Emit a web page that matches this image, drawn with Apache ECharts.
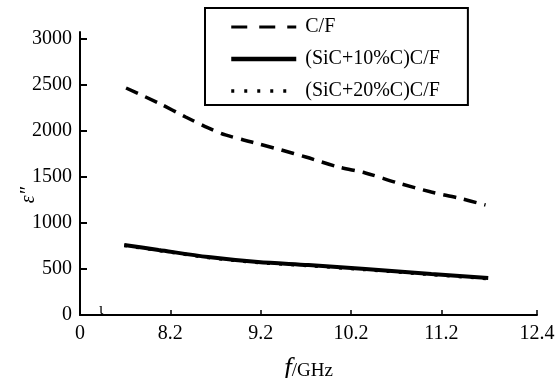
<!DOCTYPE html>
<html>
<head>
<meta charset="utf-8">
<script src="https://cdn.jsdelivr.net/npm/echarts@6/dist/echarts.min.js"></script>
<style>html,body{margin:0;padding:0;background:#fff}#c{width:557px;height:378px}</style>
</head>
<body>
<div id="c"></div>
<script>
// Data
const seriesNames = ['C/F', '(SiC+10%C)C/F', '(SiC+20%C)C/F'];
const freqCF = [7.71, 8.07, 8.37, 8.62, 8.81, 9.10, 9.43, 9.70, 10.06, 10.36, 10.72, 11.09, 11.39, 11.69];
const epsCF  = [2467, 2304, 2152, 2033, 1957, 1880, 1793, 1717, 1609, 1544, 1435, 1337, 1272, 1196];
const freqSiC10 = [7.69, 8.07, 8.62, 9.17, 9.73, 10.36, 11.09, 11.72];
const epsSiC10  = [761, 707, 630, 576, 543, 500, 446, 402];
const freqSiC20 = [7.69, 8.07, 8.62, 9.17, 9.73, 10.36, 11.09, 11.72];
const epsSiC20  = [756, 702, 625, 571, 537, 494, 440, 396];
// Axis tick positions and their printed labels (broken axis: origin printed as 0, end printed as 12.4)
const xTickValues = [7.2, 8.2, 9.2, 10.2, 11.2, 12.26];
const xTickLabels = ['0', '8.2', '9.2', '10.2', '11.2', '12.4'];
const yTickValues = [0, 500, 1000, 1500, 2000, 2500, 3000];

const zip = (a, b) => a.map((v, i) => [v, b[i]]);
const font = 'Liberation Serif';

const styleCF = {color: '#000', width: 3.5, type: [13, 8]};
const style10 = {color: '#000', width: 4, type: 'solid'};
const style20 = {color: '#000', width: 3.5, type: [3, 9]};

const chart = echarts.init(document.getElementById('c'), null, {renderer: 'canvas'});
chart.setOption({
  animation: false,
  backgroundColor: '#fff',
  grid: {left: 80, right: 20, top: 32, bottom: 63, outerBoundsMode: 'none', containLabel: false},
  legend: {
    data: [
      {name: seriesNames[0], lineStyle: {width: 3, type: [16, 12]}},
      {name: seriesNames[1], lineStyle: {width: 4.5}},
      {name: seriesNames[2], lineStyle: {width: 3.5, type: [3, 10]}}
    ],
    orient: 'vertical',
    left: 205, top: 8,
    padding: [9, 28, 4, 24],
    itemWidth: 65, itemHeight: 14, itemGap: 12,
    borderColor: '#000', borderWidth: 2,
    itemStyle: {opacity: 0},
    textStyle: {fontFamily: font, fontSize: 20, color: '#000', padding: [0, 0, 0, 4]}
  },
  xAxis: {
    type: 'value', min: 7.2, max: 12.26,
    axisLine: {lineStyle: {color: '#000', width: 2}},
    axisTick: {inside: true, length: 5, lineStyle: {color: '#000', width: 1.5}, customValues: xTickValues},
    axisLabel: {customValues: xTickValues, color: '#000', fontFamily: font, fontSize: 20, margin: 9,
      formatter: v => { const i = xTickValues.findIndex(t => Math.abs(t - v) < 1e-6); return i >= 0 ? xTickLabels[i] : ''; }},
    splitLine: {show: false},
    name: '{f|f}{u|/GHz}', nameLocation: 'middle', nameGap: 40,
    nameTextStyle: {rich: {
      f: {fontFamily: font, fontStyle: 'italic', fontSize: 27, color: '#000'},
      u: {fontFamily: font, fontSize: 19, color: '#000', padding: [6, 0, 0, 0]}
    }}
  },
  yAxis: {
    type: 'value', min: 0, max: 3076,
    axisLine: {show: true, lineStyle: {color: '#000', width: 2}},
    axisTick: {show: true, inside: true, length: 7, lineStyle: {color: '#000', width: 2}, customValues: yTickValues},
    axisLabel: {customValues: yTickValues, color: '#000', fontFamily: font, fontSize: 20, margin: 8,
      formatter: v => String(v)},
    splitLine: {show: false}
  },
  graphic: [
    {type: 'text', left: 19, top: 187, rotation: Math.PI / 2,
      style: {text: 'ε″', fontFamily: font, fontStyle: 'italic', fontSize: 20, fill: '#000'}},
    {type: 'text', left: 99, top: 302,
      style: {text: 'ι', fontFamily: font, fontSize: 16, fill: '#000'}}
  ],
  series: [
    {name: seriesNames[0], type: 'line', data: zip(freqCF, epsCF), symbol: 'none', smooth: 0.3,
      itemStyle: {color: '#000'}, lineStyle: styleCF, z: 2},
    {name: seriesNames[2], type: 'line', data: zip(freqSiC20, epsSiC20), symbol: 'none', smooth: 0.3,
      itemStyle: {color: '#000'}, lineStyle: style20, z: 2},
    {name: seriesNames[1], type: 'line', data: zip(freqSiC10, epsSiC10), symbol: 'none', smooth: 0.3,
      itemStyle: {color: '#000'}, lineStyle: style10, z: 3}
  ]
});
</script>
</body>
</html>
